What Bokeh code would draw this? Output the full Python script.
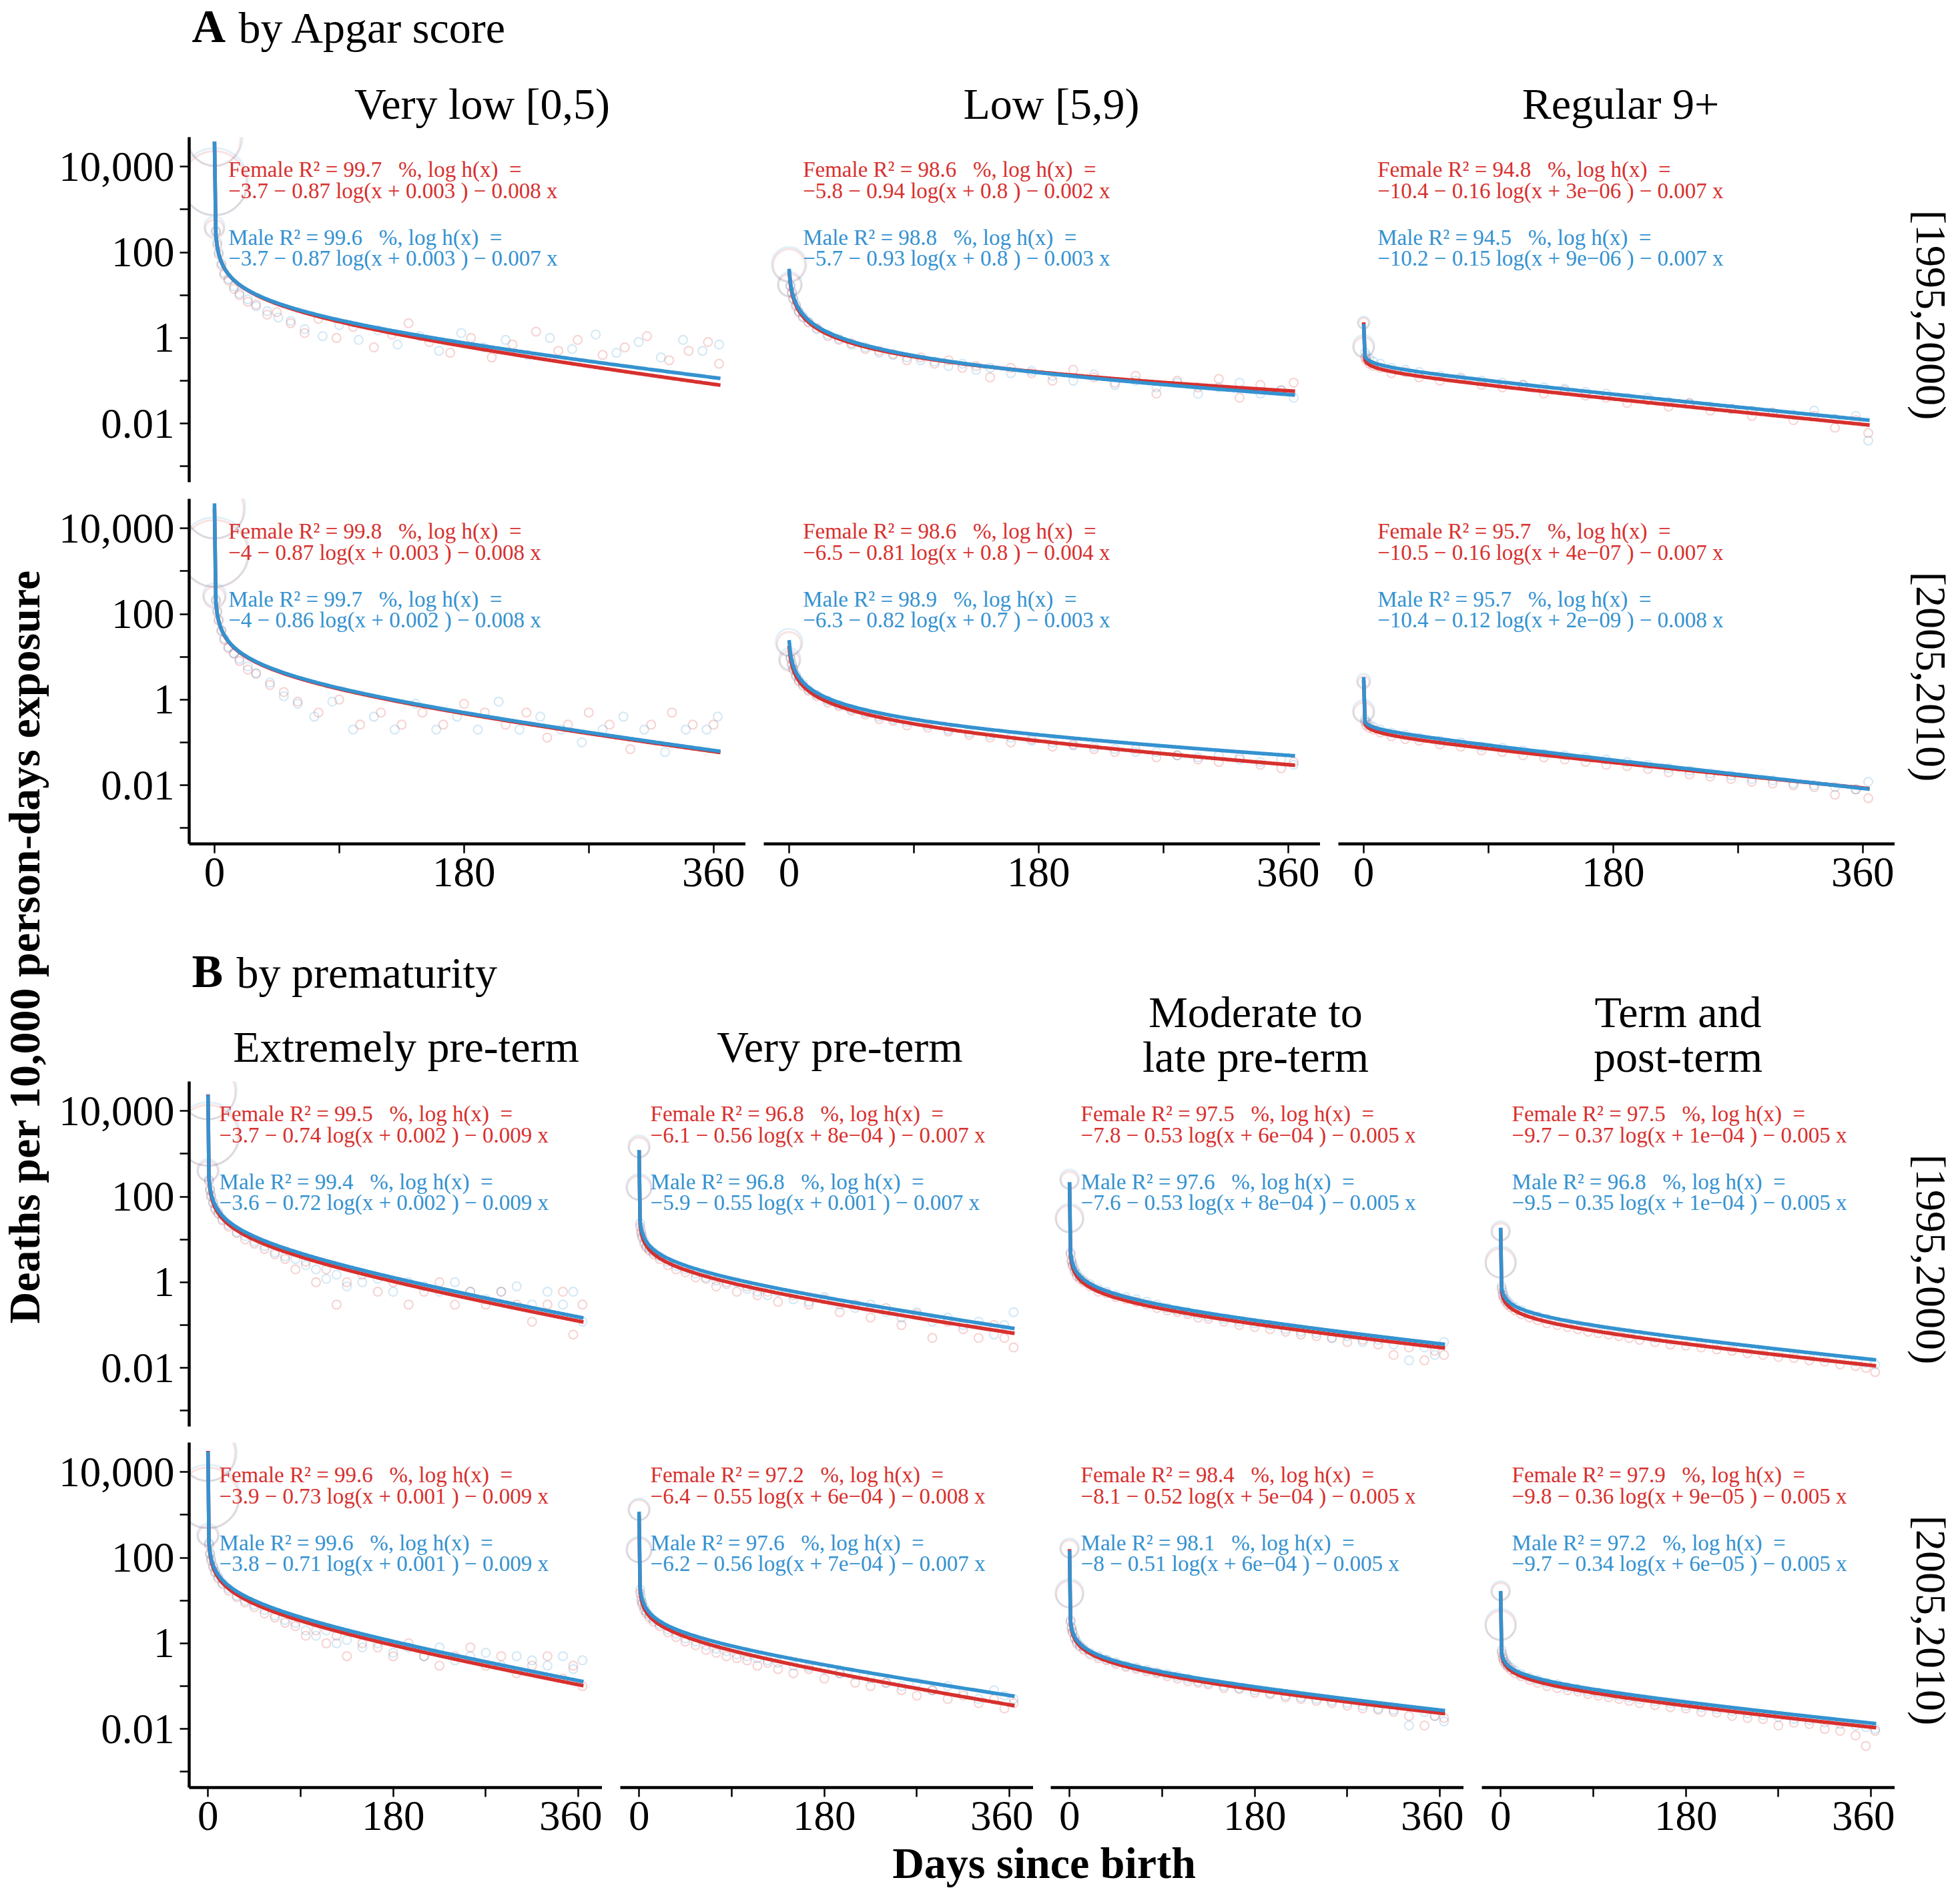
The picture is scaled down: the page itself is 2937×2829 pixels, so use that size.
import numpy as np
from bokeh.plotting import figure
from bokeh.layouts import row, column
from bokeh.models import Range1d, FixedTicker, CustomJSTickFormatter
from bokeh.core.properties import value
from bokeh.embed import file_html
from bokeh.resources import INLINE

# ------------------------------------------------------------------ data
periods = ["[1995,2000)", "[2005,2010)"]
apgar_groups = ["Very low [0,5)", "Low [5,9)", "Regular 9+"]
prematurity_groups = ["Extremely pre-term", "Very pre-term",
                      "Moderate to\nlate pre-term", "Term and\npost-term"]
section_letters = ["A", "B"]
section_titles = ["by Apgar score", "by prematurity"]
sexes = ["Female", "Male"]
x_label = "Days since birth"
y_label = "Deaths per 10,000 person-days exposure"

x_tick_values = [0, 180, 360]
x_tick_labels = ["0", "180", "360"]
x_unlabelled_ticks = [90, 270]
y_tick_values = [0.01, 1, 100, 10000]
y_tick_labels = ["0.01", "1", "100", "10,000"]
y_unlabelled_ticks = [0.001, 0.1, 10, 1000]

# fitted models  log h(x) = a + b log(x + c) + d x   (h per person-day)
# rows = periods, columns = groups
A_r2_female = [["99.7", "98.6", "94.8"], ["99.8", "98.6", "95.7"]]
A_r2_male = [["99.6", "98.8", "94.5"], ["99.7", "98.9", "95.7"]]
A_a_female = [[-3.7, -5.8, -10.4], [-4, -6.5, -10.5]]
A_a_male = [[-3.7, -5.7, -10.2], [-4, -6.3, -10.4]]
A_b_female = [[-0.87, -0.94, -0.16], [-0.87, -0.81, -0.16]]
A_b_male = [[-0.87, -0.93, -0.15], [-0.86, -0.82, -0.12]]
A_c_female = [["0.003", "0.8", "3e-06"], ["0.003", "0.8", "4e-07"]]
A_c_male = [["0.003", "0.8", "9e-06"], ["0.002", "0.7", "2e-09"]]
A_d_female = [[-0.008, -0.002, -0.007], [-0.008, -0.004, -0.007]]
A_d_male = [[-0.007, -0.003, -0.007], [-0.008, -0.003, -0.008]]

B_r2_female = [["99.5", "96.8", "97.5", "97.5"], ["99.6", "97.2", "98.4", "97.9"]]
B_r2_male = [["99.4", "96.8", "97.6", "96.8"], ["99.6", "97.6", "98.1", "97.2"]]
B_a_female = [[-3.7, -6.1, -7.8, -9.7], [-3.9, -6.4, -8.1, -9.8]]
B_a_male = [[-3.6, -5.9, -7.6, -9.5], [-3.8, -6.2, -8, -9.7]]
B_b_female = [[-0.74, -0.56, -0.53, -0.37], [-0.73, -0.55, -0.52, -0.36]]
B_b_male = [[-0.72, -0.55, -0.53, -0.35], [-0.71, -0.56, -0.51, -0.34]]
B_c_female = [["0.002", "8e-04", "6e-04", "1e-04"], ["0.001", "6e-04", "5e-04", "9e-05"]]
B_c_male = [["0.002", "0.001", "8e-04", "1e-04"], ["0.001", "7e-04", "6e-04", "6e-05"]]
B_d_female = [[-0.009, -0.007, -0.005, -0.005], [-0.009, -0.008, -0.005, -0.005]]
B_d_male = [[-0.009, -0.007, -0.005, -0.005], [-0.009, -0.007, -0.005, -0.005]]

# observed first-day rates (day, deaths per 10,000 person-days, marker size)
A_early_female = [
    [[(0, 42000, 78), (0, 4100, 96), (0, 350, 28)],
     [(0, 50, 48), (0.5, 17, 34)],
     [(0, 2.2, 16), (0, 0.6, 30)]],
    [[(0, 28000, 88), (0, 2600, 100), (0, 245, 32)],
     [(0, 20, 36), (0.5, 8, 30)],
     [(0, 2.5, 18), (0, 0.5, 30)]],
]
A_early_male = [
    [[(0, 48000, 84), (0, 4500, 100), (0, 400, 30)],
     [(0, 52, 52), (0.5, 18, 36)],
     [(0, 2.3, 18), (0, 0.65, 32)]],
    [[(0, 31000, 92), (0, 2800, 104), (0, 280, 34)],
     [(0, 22, 40), (0.5, 9, 32)],
     [(0, 2.8, 20), (0, 0.55, 32)]],
]
B_early_female = [
    [[(0, 28000, 82), (0, 2700, 91), (0, 390, 30)],
     [(0, 1400, 30), (0, 160, 36)],
     [(0, 240, 26), (0, 30, 40)],
     [(0, 15, 26), (0, 2.8, 44)]],
    [[(0, 27000, 82), (0, 2500, 91), (0, 320, 30)],
     [(0, 1300, 30), (0, 150, 36)],
     [(0, 160, 26), (0, 14, 40)],
     [(0, 16, 26), (0, 2.6, 44)]],
]
B_early_male = [
    [[(0, 30000, 86), (0, 2900, 95), (0, 420, 32)],
     [(0, 1500, 32), (0, 170, 38)],
     [(0, 260, 28), (0, 32, 42)],
     [(0, 16, 28), (0, 3.0, 46)]],
    [[(0, 29000, 86), (0, 2700, 95), (0, 350, 32)],
     [(0, 1350, 32), (0, 155, 38)],
     [(0, 170, 28), (0, 15, 42)],
     [(0, 17, 28), (0, 2.8, 46)]],
]

A_cloud_female = [
    [
        [(1, 300), (2, 150), (3, 90), (5, 50), (7, 30), (10, 22), (14, 14), (18, 10), (24, 7), (30, 6),
         (38, 3.5), (45, 4), (55, 2.2), (65, 1.3), (75, 2.8), (88, 1.0), (100, 1.8), (115, 0.6), (128, 1.2),
         (140, 2.2), (155, 0.8), (170, 0.45), (185, 1.0), (200, 0.35), (215, 0.7), (232, 1.4), (248, 0.5),
         (262, 0.9), (280, 0.4), (296, 0.6), (312, 1.1), (328, 0.3), (342, 0.5), (356, 0.8), (364, 0.25)],
        [(1, 16), (2, 11), (3, 8), (5, 5.5), (7, 4), (10, 3.0), (14, 2.3), (20, 1.7), (28, 1.1), (36, 0.9),
         (45, 0.75), (55, 0.55), (65, 0.5), (75, 0.42), (85, 0.3), (95, 0.35), (105, 0.25), (115, 0.3),
         (125, 0.2), (135, 0.22), (145, 0.12), (160, 0.2), (175, 0.15), (190, 0.1), (205, 0.18), (220, 0.12),
         (235, 0.09), (250, 0.13), (265, 0.05), (280, 0.1), (295, 0.07), (310, 0.11), (325, 0.04), (340, 0.08),
         (355, 0.06), (364, 0.09)],
        [(1, 0.35), (2, 0.3), (4, 0.25), (7, 0.22), (12, 0.2), (20, 0.15), (30, 0.16), (40, 0.12), (55, 0.1),
         (70, 0.11), (85, 0.08), (100, 0.07), (115, 0.08), (130, 0.05), (145, 0.06), (160, 0.045), (175, 0.04),
         (190, 0.03), (205, 0.035), (220, 0.025), (235, 0.03), (250, 0.02), (265, 0.022), (280, 0.015),
         (295, 0.018), (310, 0.012), (325, 0.015), (340, 0.008), (355, 0.012), (364, 0.006)],
    ],
    [
        [(1, 200), (2, 110), (3, 70), (5, 40), (7, 25), (10, 16), (14, 12), (18, 8), (24, 5), (30, 4),
         (40, 2.2), (50, 1.5), (60, 0.9), (75, 0.5), (90, 1.0), (105, 0.26), (120, 0.5), (135, 0.26), (150, 0.5),
         (165, 0.26), (180, 0.8), (195, 0.5), (210, 0.26), (225, 0.5), (240, 0.13), (255, 0.26), (270, 0.5),
         (285, 0.26), (300, 0.07), (315, 0.26), (330, 0.5), (345, 0.26), (360, 0.26)],
        [(1, 9), (2, 6.5), (3, 5), (5, 3.5), (7, 2.7), (10, 2.1), (14, 1.6), (20, 1.2), (28, 0.85), (36, 0.7),
         (45, 0.55), (55, 0.45), (65, 0.35), (75, 0.32), (85, 0.25), (100, 0.22), (115, 0.18), (130, 0.15),
         (145, 0.13), (160, 0.1), (175, 0.12), (190, 0.08), (205, 0.09), (220, 0.07), (235, 0.06), (250, 0.07),
         (265, 0.045), (280, 0.05), (295, 0.04), (310, 0.035), (325, 0.045), (340, 0.03), (355, 0.025),
         (364, 0.035)],
        [(1, 0.3), (2, 0.25), (4, 0.22), (7, 0.2), (12, 0.17), (20, 0.14), (30, 0.12), (40, 0.11), (55, 0.09),
         (70, 0.08), (85, 0.065), (100, 0.06), (115, 0.05), (130, 0.045), (145, 0.04), (160, 0.035), (175, 0.03),
         (190, 0.028), (205, 0.024), (220, 0.02), (235, 0.018), (250, 0.016), (265, 0.014), (280, 0.012),
         (295, 0.011), (310, 0.01), (325, 0.009), (340, 0.006), (355, 0.008), (364, 0.005)],
    ],
]
A_cloud_male = [
    [
        [(1, 320), (2, 170), (3, 100), (5, 55), (7, 33), (10, 24), (14, 16), (18, 11), (24, 8), (30, 5.5),
         (38, 4.2), (46, 3.0), (55, 2.5), (65, 1.6), (78, 1.1), (90, 2.0), (104, 0.9), (118, 1.5), (132, 0.7),
         (148, 1.1), (162, 0.5), (178, 1.3), (194, 0.6), (210, 0.9), (226, 0.4), (242, 1.0), (258, 0.55),
         (275, 1.2), (290, 0.45), (306, 0.8), (322, 0.35), (338, 0.9), (352, 0.5), (364, 0.7)],
        [(1, 17), (2, 12), (3, 8.5), (5, 6), (7, 4.2), (10, 3.2), (14, 2.4), (20, 1.6), (28, 1.2), (36, 0.95),
         (45, 0.7), (55, 0.6), (65, 0.45), (75, 0.4), (85, 0.35), (95, 0.3), (105, 0.28), (115, 0.22),
         (125, 0.25), (135, 0.18), (145, 0.2), (160, 0.15), (175, 0.17), (190, 0.13), (205, 0.1), (220, 0.14),
         (235, 0.08), (250, 0.1), (265, 0.07), (280, 0.09), (295, 0.05), (310, 0.07), (325, 0.09), (340, 0.05),
         (355, 0.06), (364, 0.04)],
        [(1, 0.45), (2, 0.38), (4, 0.33), (7, 0.28), (12, 0.25), (20, 0.2), (30, 0.18), (40, 0.16), (55, 0.13),
         (70, 0.12), (85, 0.1), (100, 0.09), (115, 0.08), (130, 0.07), (145, 0.065), (160, 0.055), (175, 0.05),
         (190, 0.04), (205, 0.04), (220, 0.032), (235, 0.03), (250, 0.025), (265, 0.022), (280, 0.02),
         (295, 0.018), (310, 0.016), (325, 0.02), (340, 0.013), (355, 0.015), (364, 0.004)],
    ],
    [
        [(1, 220), (2, 120), (3, 75), (5, 42), (7, 27), (10, 17), (14, 12), (18, 9), (24, 6), (30, 4.2),
         (40, 2.5), (50, 1.2), (60, 0.8), (72, 0.4), (85, 0.9), (100, 0.2), (115, 0.4), (130, 0.2), (145, 0.8),
         (160, 0.2), (175, 0.4), (190, 0.2), (205, 0.9), (220, 0.2), (235, 0.4), (250, 0.2), (265, 0.1),
         (280, 0.2), (295, 0.4), (310, 0.2), (325, 0.06), (340, 0.2), (355, 0.2), (363, 0.4)],
        [(1, 10), (2, 7), (3, 5.3), (5, 3.8), (7, 2.9), (10, 2.3), (14, 1.7), (20, 1.3), (28, 0.95), (36, 0.75),
         (45, 0.6), (55, 0.5), (65, 0.4), (75, 0.35), (85, 0.3), (100, 0.25), (115, 0.2), (130, 0.17),
         (145, 0.15), (160, 0.13), (175, 0.11), (190, 0.1), (205, 0.085), (220, 0.08), (235, 0.07), (250, 0.06),
         (265, 0.06), (280, 0.05), (295, 0.045), (310, 0.05), (325, 0.04), (340, 0.035), (355, 0.04),
         (364, 0.03)],
        [(1, 0.35), (2, 0.3), (4, 0.26), (7, 0.23), (12, 0.2), (20, 0.17), (30, 0.15), (40, 0.13), (55, 0.11),
         (70, 0.1), (85, 0.08), (100, 0.075), (115, 0.065), (130, 0.055), (145, 0.05), (160, 0.045), (175, 0.04),
         (190, 0.035), (205, 0.03), (220, 0.025), (235, 0.022), (250, 0.019), (265, 0.017), (280, 0.014),
         (295, 0.013), (310, 0.011), (325, 0.01), (340, 0.009), (355, 0.008), (364, 0.012)],
    ],
]
B_cloud_female = [
    [
        [(1, 230), (2, 140), (3, 100), (5, 70), (7, 50), (10, 40), (14, 28), (20, 20), (28, 14), (36, 10),
         (45, 8), (55, 6), (65, 4.5), (75, 3.5), (85, 2.0), (95, 3.0), (105, 1.0), (115, 2.0), (125, 0.3),
         (135, 1.0), (150, 1.5), (165, 0.6), (180, 1.0), (195, 0.3), (210, 0.6), (225, 1.0), (240, 0.3),
         (255, 0.6), (270, 0.3), (285, 0.6), (300, 0.3), (315, 0.12), (330, 0.3), (345, 0.6), (355, 0.06),
         (364, 0.3)],
        [(1, 20), (2, 14), (3, 11), (5, 8), (7, 6.5), (10, 5.5), (14, 4.5), (20, 3.5), (28, 2.5), (36, 2.0),
         (45, 1.7), (55, 1.3), (65, 1.2), (75, 0.8), (85, 1.0), (95, 0.6), (105, 0.8), (115, 0.5), (125, 0.6),
         (135, 0.35), (150, 0.5), (165, 0.3), (180, 0.4), (195, 0.2), (210, 0.3), (225, 0.15), (240, 0.25),
         (255, 0.1), (270, 0.18), (285, 0.05), (300, 0.12), (315, 0.08), (330, 0.05), (345, 0.1), (355, 0.05),
         (364, 0.03)],
        [(1, 4.5), (2, 3), (3, 2.4), (5, 1.8), (7, 1.4), (10, 1.2), (14, 1.0), (20, 0.8), (28, 0.6), (36, 0.55),
         (45, 0.45), (55, 0.4), (65, 0.35), (75, 0.3), (85, 0.25), (95, 0.22), (105, 0.2), (115, 0.18),
         (125, 0.15), (135, 0.14), (150, 0.12), (165, 0.1), (180, 0.09), (195, 0.08), (210, 0.07), (225, 0.06),
         (240, 0.055), (255, 0.05), (270, 0.04), (285, 0.045), (300, 0.035), (315, 0.02), (330, 0.03),
         (345, 0.015), (355, 0.025), (364, 0.02)],
        [(1, 0.7), (2, 0.5), (3, 0.42), (5, 0.35), (7, 0.3), (10, 0.26), (14, 0.22), (20, 0.18), (28, 0.15),
         (36, 0.13), (45, 0.11), (55, 0.1), (65, 0.09), (75, 0.08), (85, 0.07), (95, 0.065), (105, 0.06),
         (115, 0.055), (125, 0.05), (135, 0.045), (150, 0.04), (165, 0.035), (180, 0.033), (195, 0.03),
         (210, 0.027), (225, 0.025), (240, 0.022), (255, 0.02), (270, 0.018), (285, 0.017), (300, 0.015),
         (315, 0.014), (330, 0.012), (345, 0.011), (355, 0.01), (364, 0.008)],
    ],
    [
        [(1, 200), (2, 120), (3, 85), (5, 60), (7, 45), (10, 33), (14, 24), (20, 17), (28, 12), (36, 9),
         (45, 7), (55, 5), (65, 4), (75, 3), (85, 2.5), (95, 1.5), (105, 2.0), (115, 1.0), (125, 1.5),
         (135, 0.5), (150, 1.0), (165, 0.8), (180, 0.5), (195, 1.0), (210, 0.5), (225, 0.3), (240, 0.5),
         (255, 0.8), (270, 0.3), (285, 0.5), (300, 0.2), (315, 0.3), (330, 0.5), (345, 0.15), (355, 0.3),
         (364, 0.1)],
        [(1, 15), (2, 10), (3, 8), (5, 6), (7, 5), (10, 4), (14, 3.2), (20, 2.5), (28, 1.8), (36, 1.4),
         (45, 1.1), (55, 0.9), (65, 0.7), (75, 0.6), (85, 0.5), (95, 0.45), (105, 0.4), (115, 0.3), (125, 0.35),
         (135, 0.25), (150, 0.2), (165, 0.25), (180, 0.15), (195, 0.2), (210, 0.12), (225, 0.1), (240, 0.12),
         (255, 0.08), (270, 0.06), (285, 0.08), (300, 0.05), (315, 0.06), (330, 0.04), (345, 0.05), (355, 0.03),
         (364, 0.04)],
        [(1, 3.2), (2, 2.2), (3, 1.8), (5, 1.3), (7, 1.0), (10, 0.85), (14, 0.7), (20, 0.55), (28, 0.45),
         (36, 0.4), (45, 0.33), (55, 0.28), (65, 0.25), (75, 0.22), (85, 0.2), (95, 0.17), (105, 0.15),
         (115, 0.13), (125, 0.12), (135, 0.11), (150, 0.09), (165, 0.085), (180, 0.07), (195, 0.065),
         (210, 0.055), (225, 0.05), (240, 0.045), (255, 0.04), (270, 0.035), (285, 0.03), (300, 0.028),
         (315, 0.025), (330, 0.02), (345, 0.012), (355, 0.02), (364, 0.018)],
        [(1, 0.6), (2, 0.45), (3, 0.38), (5, 0.32), (7, 0.28), (10, 0.24), (14, 0.2), (20, 0.17), (28, 0.14),
         (36, 0.12), (45, 0.1), (55, 0.09), (65, 0.08), (75, 0.075), (85, 0.065), (95, 0.06), (105, 0.055),
         (115, 0.05), (125, 0.045), (135, 0.04), (150, 0.036), (165, 0.032), (180, 0.03), (195, 0.025),
         (210, 0.024), (225, 0.02), (240, 0.018), (255, 0.017), (270, 0.012), (285, 0.014), (300, 0.013),
         (315, 0.01), (330, 0.009), (345, 0.007), (355, 0.004), (364, 0.009)],
    ],
]
B_cloud_male = [
    [
        [(1, 250), (2, 150), (3, 110), (5, 75), (7, 55), (10, 42), (14, 30), (20, 22), (28, 15), (36, 12),
         (45, 9), (55, 7), (65, 5), (75, 4), (85, 3.5), (95, 2.5), (105, 2.0), (115, 1.2), (125, 1.5),
         (135, 0.8), (150, 1.0), (165, 1.2), (180, 0.6), (195, 1.0), (210, 0.8), (225, 0.6), (240, 1.0),
         (255, 0.6), (270, 0.4), (285, 0.6), (300, 0.8), (315, 0.3), (330, 0.6), (345, 0.3), (355, 0.6),
         (364, 0.12)],
        [(1, 24), (2, 16), (3, 12), (5, 9), (7, 7), (10, 6), (14, 5), (20, 4), (28, 3), (36, 2.4), (45, 2.0),
         (55, 1.6), (65, 1.3), (75, 1.1), (85, 0.9), (95, 1.0), (105, 0.7), (115, 0.6), (125, 0.5), (135, 0.6),
         (150, 0.4), (165, 0.35), (180, 0.45), (195, 0.3), (210, 0.25), (225, 0.3), (240, 0.2), (255, 0.15),
         (270, 0.2), (285, 0.12), (300, 0.15), (315, 0.1), (330, 0.12), (345, 0.06), (355, 0.1), (364, 0.2)],
        [(1, 5), (2, 3.3), (3, 2.6), (5, 2.0), (7, 1.6), (10, 1.3), (14, 1.1), (20, 0.9), (28, 0.7), (36, 0.6),
         (45, 0.5), (55, 0.45), (65, 0.4), (75, 0.35), (85, 0.3), (95, 0.25), (105, 0.22), (115, 0.2),
         (125, 0.18), (135, 0.16), (150, 0.14), (165, 0.12), (180, 0.11), (195, 0.1), (210, 0.08), (225, 0.07),
         (240, 0.065), (255, 0.05), (270, 0.055), (285, 0.04), (300, 0.045), (315, 0.035), (330, 0.015),
         (345, 0.03), (355, 0.02), (364, 0.04)],
        [(1, 0.8), (2, 0.6), (3, 0.5), (5, 0.4), (7, 0.35), (10, 0.3), (14, 0.26), (20, 0.22), (28, 0.18),
         (36, 0.16), (45, 0.14), (55, 0.12), (65, 0.11), (75, 0.1), (85, 0.09), (95, 0.08), (105, 0.075),
         (115, 0.07), (125, 0.065), (135, 0.06), (150, 0.05), (165, 0.045), (180, 0.042), (195, 0.038),
         (210, 0.034), (225, 0.03), (240, 0.028), (255, 0.025), (270, 0.023), (285, 0.021), (300, 0.019),
         (315, 0.017), (330, 0.016), (345, 0.014), (355, 0.013), (364, 0.012)],
    ],
    [
        [(1, 220), (2, 130), (3, 95), (5, 65), (7, 48), (10, 36), (14, 26), (20, 19), (28, 13), (36, 10),
         (45, 8), (55, 6), (65, 4.5), (75, 3.5), (85, 3.0), (95, 2.0), (105, 1.5), (115, 2.0), (125, 1.0),
         (135, 1.2), (150, 0.8), (165, 1.0), (180, 0.6), (195, 0.8), (210, 0.5), (225, 0.8), (240, 0.4),
         (255, 0.5), (270, 0.6), (285, 0.3), (300, 0.5), (315, 0.4), (330, 0.3), (345, 0.5), (355, 0.25),
         (364, 0.4)],
        [(1, 18), (2, 12), (3, 9), (5, 7), (7, 5.5), (10, 4.5), (14, 3.6), (20, 2.8), (28, 2.1), (36, 1.7),
         (45, 1.3), (55, 1.1), (65, 0.9), (75, 0.75), (85, 0.65), (95, 0.55), (105, 0.5), (115, 0.45),
         (125, 0.4), (135, 0.35), (150, 0.3), (165, 0.28), (180, 0.25), (195, 0.2), (210, 0.18), (225, 0.15),
         (240, 0.12), (255, 0.1), (270, 0.12), (285, 0.08), (300, 0.1), (315, 0.07), (330, 0.05), (345, 0.08),
         (355, 0.06), (364, 0.05)],
        [(1, 3.5), (2, 2.4), (3, 1.9), (5, 1.4), (7, 1.1), (10, 0.9), (14, 0.75), (20, 0.6), (28, 0.5),
         (36, 0.42), (45, 0.36), (55, 0.3), (65, 0.27), (75, 0.24), (85, 0.21), (95, 0.19), (105, 0.17),
         (115, 0.15), (125, 0.13), (135, 0.12), (150, 0.1), (165, 0.09), (180, 0.08), (195, 0.07), (210, 0.06),
         (225, 0.055), (240, 0.05), (255, 0.045), (270, 0.04), (285, 0.035), (300, 0.03), (315, 0.028),
         (330, 0.012), (345, 0.025), (355, 0.02), (364, 0.015)],
        [(1, 0.7), (2, 0.52), (3, 0.44), (5, 0.36), (7, 0.31), (10, 0.27), (14, 0.23), (20, 0.19), (28, 0.16),
         (36, 0.14), (45, 0.12), (55, 0.11), (65, 0.095), (75, 0.085), (85, 0.075), (95, 0.07), (105, 0.065),
         (115, 0.06), (125, 0.055), (135, 0.05), (150, 0.044), (165, 0.04), (180, 0.035), (195, 0.032),
         (210, 0.029), (225, 0.026), (240, 0.023), (255, 0.021), (270, 0.019), (285, 0.017), (300, 0.016),
         (315, 0.014), (330, 0.013), (345, 0.012), (355, 0.011), (364, 0.01)],
    ],
]

# ------------------------------------------------------------------ style / geometry
SERIF = "Liberation Serif"
RED = "#D7302E"
BLUE = "#3492D0"
MID = 0.3375          # em offset from baseline to the middle of the em box
FRAME_H = 517
A_W = 834
B_W = 619
X_RANGE = (-18.25, 383.25)
LOG_TOP, LOG_BOT = 4.69, -3.37
PX_PER_DEC = FRAME_H / (LOG_TOP - LOG_BOT)
curve_days = np.arange(0, 366)
ANNOT_SIZE = 33
NB = "\u00a0"


def num(v):
    return f"{abs(v):g}"


def coef(s):
    return s.replace("-", "\u2212")


def y_at(offset_px):
    return 10 ** (LOG_TOP - offset_px / PX_PER_DEC)


def tick_formatter(vals, labs):
    return CustomJSTickFormatter(args=dict(vals=vals, labs=labs), code="""
        for (let i = 0; i < vals.length; i++) {
            const v = vals[i];
            if (tick === v || Math.abs(tick - v) <= 1e-6 * Math.abs(v)) return labs[i];
        }
        return "";
    """)


def style_axis(ax):
    ax.axis_line_width = 4.5
    ax.axis_line_color = "black"
    ax.major_tick_line_width = 2.5
    ax.major_tick_line_color = "black"
    ax.major_tick_out = 14
    ax.major_tick_in = 0
    ax.minor_tick_line_color = None
    ax.major_label_text_font = SERIF
    ax.major_label_text_font_size = "63px"
    ax.major_label_text_color = "black"


def panel(frame_w, left_border, bottom_border, show_y, show_x, fits, early, cloud, text_x):
    p = figure(frame_width=frame_w, frame_height=FRAME_H,
               x_range=Range1d(*X_RANGE),
               y_range=Range1d(10 ** LOG_BOT, 10 ** LOG_TOP),
               y_axis_type="log",
               x_axis_location="below" if show_x else None,
               y_axis_location="left" if show_y else None,
               output_backend="svg", toolbar_location=None,
               min_border_left=left_border, min_border_right=0,
               min_border_top=0, min_border_bottom=bottom_border,
               outline_line_color=None)
    p.grid.grid_line_color = None
    if show_y:
        ax = p.yaxis[0]
        ax.ticker = FixedTicker(ticks=sorted(y_tick_values + y_unlabelled_ticks), minor_ticks=[])
        ax.formatter = tick_formatter(y_tick_values, y_tick_labels)
        style_axis(ax)
        ax.major_label_standoff = 8
    if show_x:
        ax = p.xaxis[0]
        ax.ticker = FixedTicker(ticks=sorted(x_tick_values + x_unlabelled_ticks), minor_ticks=[])
        ax.formatter = tick_formatter(x_tick_values, x_tick_labels)
        style_axis(ax)
        ax.major_label_standoff = 7

    colors = [RED, BLUE]
    for k in range(2):
        pts = cloud[k]
        p.scatter([q[0] for q in pts], [q[1] for q in pts], size=13,
                  marker="circle", fill_color=None, line_color=colors[k],
                  line_alpha=0.22, line_width=2)
    for k in range(2):
        pts = early[k]
        p.scatter([q[0] for q in pts], [q[1] for q in pts], size=[q[2] for q in pts],
                  marker="circle", fill_color=None, line_color=colors[k],
                  line_alpha=0.14, line_width=3)
    for k in range(2):
        r2, a, b, c, d = fits[k]
        rate = 1e4 * np.exp(a + b * np.log(curve_days + float(c)) + d * curve_days)
        p.line(curve_days, rate, line_color=colors[k], line_width=5.5)
    offs = [(59.4, 92.0), (161.5, 193.0)]
    shift = MID * ANNOT_SIZE
    for k in range(2):
        r2, a, b, c, d = fits[k]
        l1 = f"{sexes[k]} R\u00b2{NB}={NB}{r2}{NB}{NB}{NB}%,{NB}log{NB}h(x){NB}{NB}="
        l2 = f"\u2212{num(a)} \u2212 {num(b)} log(x + {coef(c)}{NB}) \u2212 {num(d)} x"
        p.text(x=[text_x, text_x],
               y=[y_at(offs[k][0] - shift), y_at(offs[k][1] - shift)], text=[l1, l2],
               text_font=value(SERIF), text_font_size=f"{ANNOT_SIZE}px", text_color=colors[k],
               text_align="left", text_baseline="middle")
    return p


def blank(w, h, x0, y0):
    f = figure(frame_width=w, frame_height=h,
               x_range=Range1d(x0, x0 + w), y_range=Range1d(y0 + h, y0),
               x_axis_type=None, y_axis_type=None,
               output_backend="svg", toolbar_location=None,
               min_border=0, outline_line_color=None)
    f.grid.grid_line_color = None
    return f


def txt(f, x, y, s, size, bold=False, align="center", angle=0.0, baseline=True):
    # y is the alphabetic baseline (unless baseline=False: then y is the centre)
    yy = y - MID * size if baseline else y
    f.text(x=[x], y=[yy], text=[s], text_font=value(SERIF), text_font_size=f"{size}px",
           text_font_style="bold" if bold else "normal", text_color="black",
           text_align=align, text_baseline="middle", angle=angle)


# ------------------------------------------------------------------ header A (page y 0..205)
hA = blank(2857, 205, 80, 0)
txt(hA, 287, 63, section_letters[0], 70, bold=True, align="left")
txt(hA, 357, 63, section_titles[0], 66, align="left")
for name, cx in zip(apgar_groups, [722, 1575, 2428]):
    txt(hA, cx, 177, name, 66)

row_layouts = []
A_left = [203, 27, 27]
A_rows_y = [(205, 25), (747, 92)]
for i in range(2):
    top, bb = A_rows_y[i]
    figs = []
    for j in range(3):
        fits = [(A_r2_female[i][j], A_a_female[i][j], A_b_female[i][j], A_c_female[i][j], A_d_female[i][j]),
                (A_r2_male[i][j], A_a_male[i][j], A_b_male[i][j], A_c_male[i][j], A_d_male[i][j])]
        early = [A_early_female[i][j], A_early_male[i][j]]
        cloud = [A_cloud_female[i][j], A_cloud_male[i][j]]
        figs.append(panel(A_W, A_left[j], bb, j == 0, i == 1, fits, early, cloud, 10))
    strip = blank(98, FRAME_H + bb, 2839, top)
    txt(strip, 2893, top + FRAME_H / 2 + 8, periods[i], 64, angle=-np.pi / 2, baseline=False)
    figs.append(strip)
    row_layouts.append(row(*figs))

# ------------------------------------------------------------------ header B (page y 1356..1620)
hB = blank(2857, 264, 80, 1356)
txt(hB, 287, 1479, section_letters[1], 70, bold=True, align="left")
txt(hB, 354, 1479, section_titles[1], 66, align="left")
b_title_x = [608, 1258, 1881, 2514]
for name, cx in zip(prematurity_groups, b_title_x):
    lines = name.split("\n")
    if len(lines) == 1:
        txt(hB, cx, 1590, lines[0], 66)
    else:
        txt(hB, cx, 1538, lines[0], 66)
        txt(hB, cx, 1605, lines[1], 66)

B_left = [203, 27, 26, 27]
B_rows_y = [(1620, 24), (2161, 92)]
for i in range(2):
    top, bb = B_rows_y[i]
    figs = []
    for j in range(4):
        fits = [(B_r2_female[i][j], B_a_female[i][j], B_b_female[i][j], B_c_female[i][j], B_d_female[i][j]),
                (B_r2_male[i][j], B_a_male[i][j], B_b_male[i][j], B_c_male[i][j], B_d_male[i][j])]
        early = [B_early_female[i][j], B_early_male[i][j]]
        cloud = [B_cloud_female[i][j], B_cloud_male[i][j]]
        figs.append(panel(B_W, B_left[j], bb, j == 0, i == 1, fits, early, cloud, 11))
    strip = blank(98, FRAME_H + bb, 2839, top)
    txt(strip, 2893, top + FRAME_H / 2 + 8, periods[i], 64, angle=-np.pi / 2, baseline=False)
    figs.append(strip)
    row_layouts.append(row(*figs))

# ------------------------------------------------------------------ x title (page y 2750..2829, overlapping
# the empty lower strip of the bottom panels' axis area)
xt = blank(2857, 79, 80, 2750)
xt.margin = (-20, 0, 0, 0)
xt.background_fill_alpha = 0
xt.border_fill_alpha = 0
txt(xt, 1564, 2813, x_label, 66, bold=True)

# ------------------------------------------------------------------ y title (page x 0..80)
yt = blank(80, 2829, 0, 0)
txt(yt, 36, 1418, y_label, 66, bold=True, angle=np.pi / 2, baseline=False)

right = column(hA, row_layouts[0], row_layouts[1], hB, row_layouts[2], row_layouts[3], xt)
layout = row(yt, right)

open("out.html", "w").write(file_html(layout, INLINE))
